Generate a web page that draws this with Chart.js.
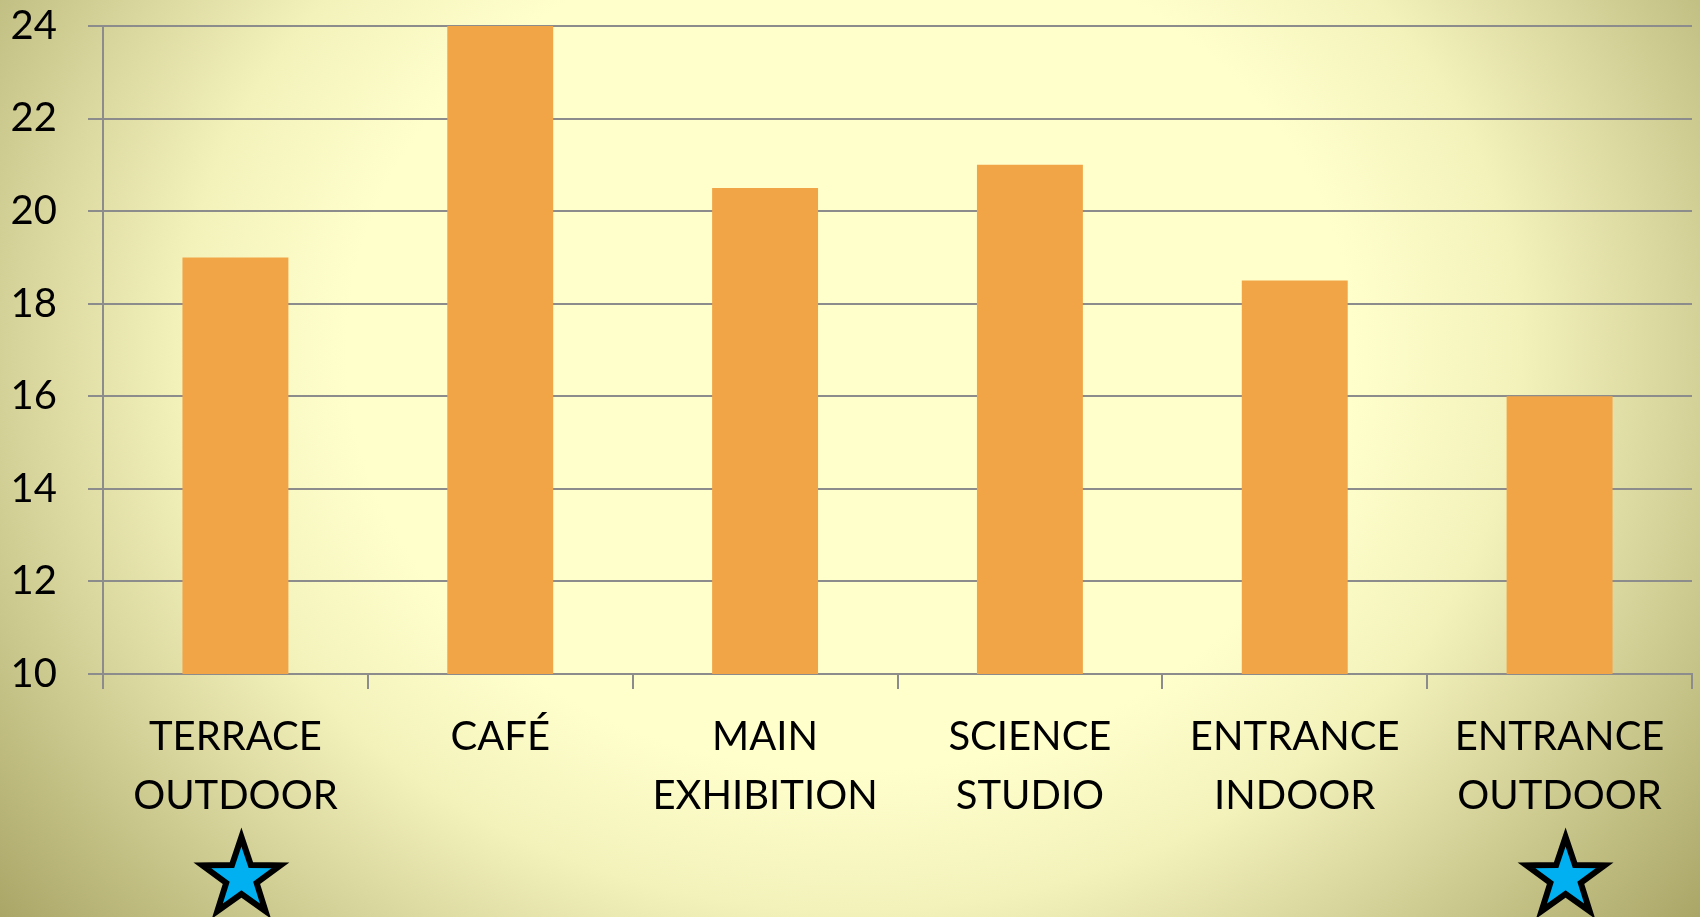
<!DOCTYPE html>
<html>
<head>
<meta charset="utf-8">
<script src="https://cdn.jsdelivr.net/npm/chart.js@4"></script>
<style>
  html, body { margin: 0; padding: 0; overflow: hidden; }
  #wrap { width: 1700px; height: 917px; }
</style>
</head>
<body>
<div id="wrap"><canvas id="roomChart" width="1700" height="917"></canvas></div>
<script>
// Data
const rooms = [
  ["TERRACE", "OUTDOOR"],
  ["CAFÉ"],
  ["MAIN", "EXHIBITION"],
  ["SCIENCE", "STUDIO"],
  ["ENTRANCE", "INDOOR"],
  ["ENTRANCE", "OUTDOOR"]
];
const readings = [19, 24, 20.5, 21, 18.5, 16];
const yMin = 10;
const yMax = 24;
const yStep = 2;
const starredRooms = [0, 5]; // outdoor spots get a star

const gridGrey = "#8c8c8c";

// elliptical background, pale in the middle, olive towards the edges
const backgroundPlugin = {
  id: "bg",
  beforeDraw(chart) {
    const { ctx, width, height } = chart;
    const cx = 850, cy = 350, sx = 1.197;
    ctx.save();
    ctx.translate(cx, cy);
    ctx.scale(sx, 1);
    const g = ctx.createRadialGradient(0, 0, 0, 0, 0, 1000);
    g.addColorStop(0, "#ffffcc");
    g.addColorStop(0.42, "#ffffcc");
    g.addColorStop(0.56, "#f3f2bb");
    g.addColorStop(1, "rgb(151,146,82)");
    ctx.fillStyle = g;
    ctx.fillRect(-cx / sx - 2, -cy - 2, width / sx + 4, height + 4);
    ctx.restore();
  }
};

// blue stars under the marked categories
const starPlugin = {
  id: "stars",
  afterDraw(chart) {
    const { ctx, chartArea } = chart;
    const xScale = chart.scales.x;
    const R = 41, r = 16;
    starredRooms.forEach((i) => {
      const cx = xScale.getPixelForValue(i) + 6;
      const cy = chartArea.bottom + 204;
      ctx.save();
      ctx.beginPath();
      for (let k = 0; k < 10; k++) {
        const rad = k % 2 === 0 ? R : r;
        const a = -Math.PI / 2 + (k * Math.PI) / 5;
        const px = cx + rad * Math.cos(a);
        const py = cy + rad * Math.sin(a);
        if (k === 0) ctx.moveTo(px, py);
        else ctx.lineTo(px, py);
      }
      ctx.closePath();
      ctx.fillStyle = "#00b0f0";
      ctx.fill();
      ctx.lineWidth = 6;
      ctx.lineJoin = "miter";
      ctx.strokeStyle = "#000000";
      ctx.stroke();
      ctx.restore();
    });
  }
};

const ctx = document.getElementById("roomChart").getContext("2d");
new Chart(ctx, {
  type: "bar",
  data: {
    labels: rooms,
    datasets: [
      {
        label: "Reading",
        data: readings,
        backgroundColor: "#f2a546",
        barPercentage: 0.4,
        categoryPercentage: 1.0
      }
    ]
  },
  options: {
    responsive: false,
    animation: false,
    layout: { padding: { top: 26, right: 8, left: 0, bottom: 0 } },
    plugins: {
      legend: { display: false },
      tooltip: { enabled: false }
    },
    scales: {
      x: {
        grid: {
          drawOnChartArea: false,
          drawTicks: true,
          tickLength: 15,
          color: gridGrey,
          lineWidth: 2
        },
        border: { display: true, color: gridGrey, width: 2 },
        ticks: {
          color: "#000000",
          padding: 19,
          maxRotation: 0,
          autoSkip: false,
          font: { family: "Lato", size: 40, lineHeight: 1.475 }
        },
        afterFit(scale) { scale.height = 243; }
      },
      y: {
        min: yMin,
        max: yMax,
        grid: {
          color: gridGrey,
          lineWidth: 2,
          tickLength: 15
        },
        border: { display: true, color: gridGrey, width: 2 },
        ticks: {
          stepSize: yStep,
          color: "#000000",
          padding: 31,
          font: { family: "Lato", size: 40 }
        },
        afterFit(scale) {
          scale.width = 103;
          scale.paddingTop = 0;
          scale.paddingBottom = 0;
        }
      }
    }
  },
  plugins: [backgroundPlugin, starPlugin]
});
</script>
</body>
</html>
